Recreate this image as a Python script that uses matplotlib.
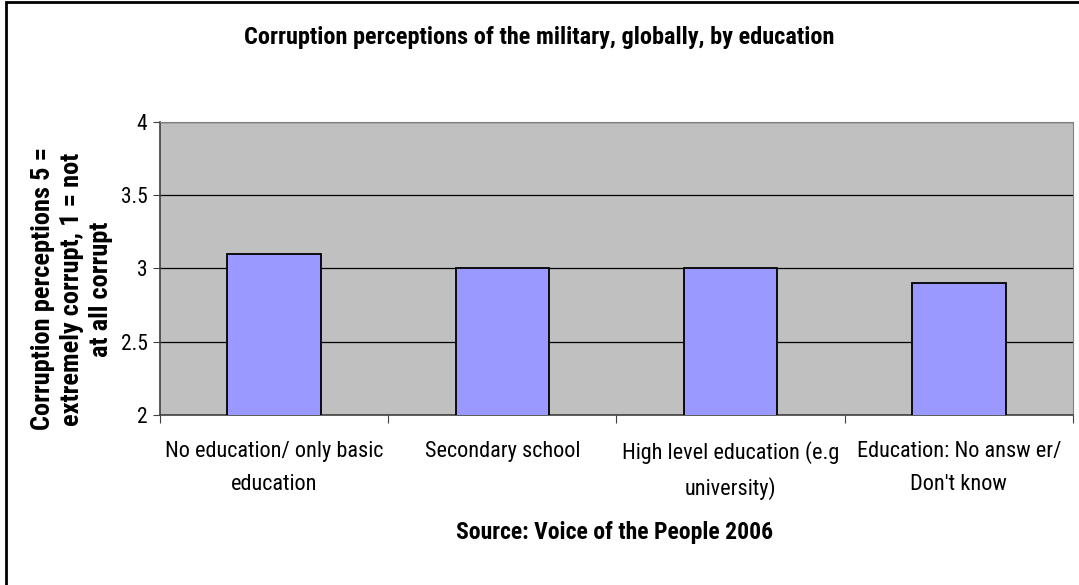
import numpy as np
import matplotlib.pyplot as plt
from matplotlib.patches import Rectangle

# data
categories = ["No education/ only basic\neducation", "Secondary school",
              "High level education (e.g\nuniversity)", "Education: No answ er/\nDon't know"]
values = [3.1, 3.0, 3.0, 2.9]

plt.rcParams['font.family'] = ['Liberation Sans Narrow', 'Roboto Condensed', 'Archivo Narrow',
                               'Liberation Sans', 'DejaVu Sans']

fig = plt.figure(figsize=(10.79, 5.85), dpi=100)
ax = fig.add_axes([0.1483, 0.2906, 0.8461, 0.5009])
ax.set_facecolor('#C0C0C0')

x = np.arange(len(categories))
ax.bar(x, values, width=0.41, color='#9999FF', edgecolor='black', linewidth=1.3, zorder=3)

ax.set_ylim(2, 4)
ax.set_xlim(-0.5, len(categories) - 0.5)
ax.set_yticks([2, 2.5, 3, 3.5, 4])
ax.set_yticklabels(['2', '2.5', '3', '3.5', '4'], fontsize=15.5)
ax.yaxis.grid(True, color='black', linewidth=0.9, zorder=1)
ax.set_axisbelow(True)

# category labels between boundary ticks
ax.set_xticks(np.arange(len(categories) + 1) - 0.5)
ax.set_xticklabels([])
ax.set_xticks(x, minor=True)
ax.set_xticklabels(categories, minor=True, fontsize=16, linespacing=1.7)
ax.tick_params(axis='x', which='minor', length=0, pad=19)
ax.tick_params(axis='x', which='major', length=6, color='#404040')
ax.tick_params(axis='y', length=5, color='#404040', pad=4)

for s in ['top', 'right']:
    ax.spines[s].set_color('#808080')
for s in ['left', 'bottom']:
    ax.spines[s].set_color('#404040')
    ax.spines[s].set_linewidth(1.2)

fig.text(0.5, 0.936, "Corruption perceptions of the military, globally, by education",
         ha='center', va='center', fontsize=17.5, fontweight='bold')
fig.text(0.57, 0.089, "Source: Voice of the People 2006",
         ha='center', va='center', fontsize=17, fontweight='bold')
fig.text(0.0667, 0.506, "Corruption perceptions 5 =\nextremely corrupt, 1 = not\nat all corrupt",
         ha='center', va='center', rotation=90, fontsize=19, fontweight='bold', linespacing=1.25)

# outer border of the chart area
fig.patches.append(Rectangle((0.0055, -0.01), 1.5, 1.0065, transform=fig.transFigure,
                             fill=False, edgecolor='black', linewidth=2))

fig.savefig('out.png', dpi=100)
